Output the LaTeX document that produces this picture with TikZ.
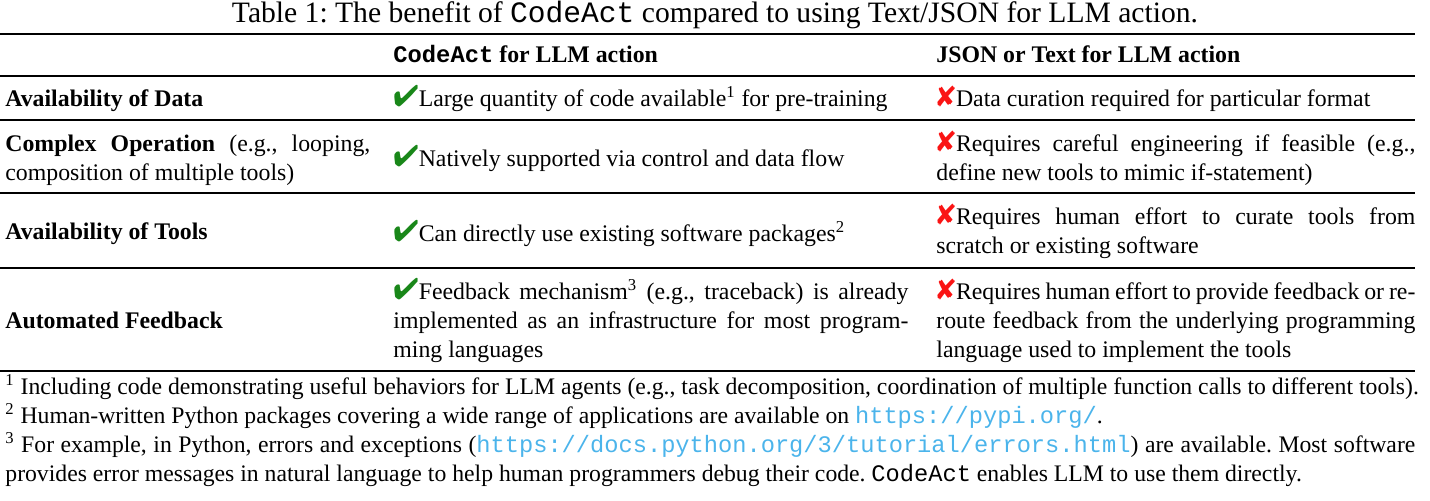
\documentclass[tikz,border=0pt]{standalone}
\usepackage{fontspec}
\setmainfont{Liberation Serif}
\setmonofont{Liberation Mono}
\usepackage{pifont}
\frenchspacing
\definecolor{checkgreen}{RGB}{25,135,25}
\definecolor{crossred}{RGB}{250,20,20}
\definecolor{urlcyan}{RGB}{75,180,235}
\newcommand{\yesmark}{\textcolor{checkgreen}{\fontsize{15}{14.5}\selectfont\ding{52}}}
\newcommand{\nomark}{\textcolor{crossred}{\fontsize{14.5}{14.5}\selectfont\ding{56}}}
\newcommand{\weblink}[1]{\textcolor{urlcyan}{\texttt{#1}}}
\tikzset{
	cell/.style={anchor=base west, inner sep=0pt, align=justify, font=\fontsize{11.9}{14.5}\selectfont},
	namecol/.style={cell, text width=182.5pt},
	codecol/.style={cell, text width=257.5pt},
	textcol/.style={cell, text width=239.5pt},
	footline/.style={anchor=base west, inner sep=0pt, font=\fontsize{11.85}{14.5}\selectfont},
	footcol/.style={cell, text width=705pt, font=\fontsize{11.85}{14.5}\selectfont},
	heavyrule/.style={line width=1.1pt},
	lightrule/.style={line width=0.6pt}
}

\begin{document}
\begin{tikzpicture}[x=0.5pt, y=-0.5pt]
		\useasboundingbox (0, 0) rectangle (1430, 500);
		
		%%%%% CAPTION %%%%%
		\node[cell, anchor=base, align=center, font=\fontsize{14.8}{16}\selectfont] (caption) at (715, 22) {Table 1: The benefit of \texttt{CodeAct} compared to using Text/JSON for LLM action.};
		
		%%%%% RULES %%%%%
		\draw[heavyrule] (0, 34) -- (1415, 34);
		\draw[lightrule] (0, 76) -- (1415, 76);
		\draw[lightrule] (0, 120) -- (1415, 120);
		\draw[lightrule] (0, 193) -- (1415, 193);
		\draw[lightrule] (0, 268) -- (1415, 268);
		\draw[heavyrule] (0, 371) -- (1415, 371);
		
		%%%%% HEADER %%%%%
		\node[codecol] (headcode) at (393, 62) {\textbf{\texttt{CodeAct} for LLM action}};
		\node[textcol] (headtext) at (936, 62) {\textbf{JSON or Text for LLM action}};
		
		%%%%% ROWS %%%%%
		\node[namecol] (datarow) at (5, 106) {\textbf{Availability of Data}};
		\node[codecol] (datacode) at (393, 106) {\yesmark Large quantity of code available\textsuperscript{1} for pre-training};
		\node[textcol] (datatext) at (936, 106) {\nomark Data curation required for particular format};
		
		\node[namecol] (oprow) at (5, 151) {\textbf{Complex Operation} (e.g., looping,\linebreak composition of multiple tools)};
		\node[codecol] (opcode) at (393, 166) {\yesmark Natively supported via control and data flow};
		\node[textcol] (optext) at (936, 151) {\nomark Requires careful engineering if feasible (e.g.,\linebreak define new tools to mimic if-statement)};
		
		\node[namecol] (toolrow) at (5, 239) {\textbf{Availability of Tools}};
		\node[codecol] (toolcode) at (393, 241) {\yesmark Can directly use existing software packages\textsuperscript{2}};
		\node[textcol] (tooltext) at (936, 224) {\nomark Requires human effort to curate tools from\linebreak scratch or existing software};
		
		\node[namecol] (fbrow) at (5, 328) {\textbf{Automated Feedback}};
		\node[codecol] (fbcode) at (393, 299) {\yesmark Feedback mechanism\textsuperscript{3} (e.g., traceback) is already\linebreak implemented as an infrastructure for most program-\linebreak ming languages};
		\node[textcol] (fbtext) at (936, 299) {\nomark Requires human effort to provide feedback or re-\linebreak route feedback from the underlying programming\linebreak language used to implement the tools};
		
		%%%%% FOOTNOTES %%%%%
		\node[footline] (footone) at (5, 394) {\textsuperscript{1} Including code demonstrating useful behaviors for LLM agents (e.g., task decomposition, coordination of multiple function calls to different tools).};
		\node[footline] (foottwo) at (5, 423) {\textsuperscript{2} Human-written Python packages covering a wide range of applications are available on \weblink{https://pypi.org/}.};
		\node[footcol] (footthree) at (5, 452) {\textsuperscript{3} For example, in Python, errors and exceptions (\weblink{https://docs.python.org/3/tutorial/errors.html}) are available. Most software\linebreak provides error messages in natural language to help human programmers debug their code. \texttt{CodeAct} enables LLM to use them directly.};
		
	\end{tikzpicture}
\end{document}
